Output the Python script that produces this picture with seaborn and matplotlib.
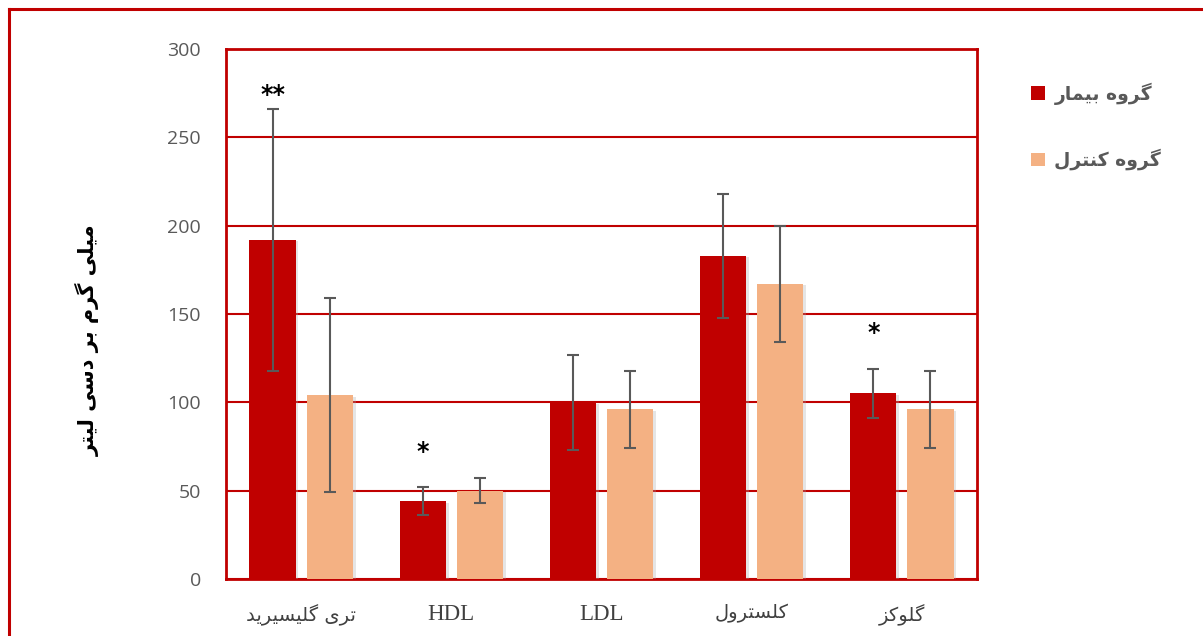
import pandas as pd
import seaborn as sns
import matplotlib.pyplot as plt
from matplotlib.lines import Line2D
from matplotlib.patches import Patch
import matplotlib.patheffects as pe


# Persian letters -> (isolated, final, initial, medial) presentation forms
FORMS = {
    'ا': ('\uFE8D', '\uFE8E'),
    'ب': ('\uFE8F', '\uFE90', '\uFE91', '\uFE92'),
    'ت': ('\uFE95', '\uFE96', '\uFE97', '\uFE98'),
    'د': ('\uFEA9', '\uFEAA'),
    'ر': ('\uFEAD', '\uFEAE'),
    'ز': ('\uFEAF', '\uFEB0'),
    'س': ('\uFEB1', '\uFEB2', '\uFEB3', '\uFEB4'),
    'ل': ('\uFEDD', '\uFEDE', '\uFEDF', '\uFEE0'),
    'م': ('\uFEE1', '\uFEE2', '\uFEE3', '\uFEE4'),
    'ن': ('\uFEE5', '\uFEE6', '\uFEE7', '\uFEE8'),
    'ه': ('\uFEE9', '\uFEEA', '\uFEEB', '\uFEEC'),
    'و': ('\uFEED', '\uFEEE'),
    'ی': ('\uFBFC', '\uFBFD', '\uFBFE', '\uFBFF'),
    'ک': ('\uFB8E', '\uFB8F', '\uFB90', '\uFB91'),
    'گ': ('\uFB92', '\uFB93', '\uFB94', '\uFB95'),
}


def fa(s):
    # shape the letters and put them in visual (right to left) order
    if s.isascii():
        return s
    out = []
    for i, ch in enumerate(s):
        if ch not in FORMS:
            out.append(ch)
            continue
        prev = s[i - 1] if i > 0 else ''
        nxt = s[i + 1] if i + 1 < len(s) else ''
        join_prev = prev in FORMS and len(FORMS[prev]) == 4
        join_next = nxt in FORMS and len(FORMS[ch]) == 4
        f = FORMS[ch]
        if join_prev and join_next:
            out.append(f[3])
        elif join_prev:
            out.append(f[1])
        elif join_next:
            out.append(f[2])
        else:
            out.append(f[0])
    return ''.join(reversed(out))


categories = ['تری گلیسیرید', 'HDL', 'LDL', 'کلسترول', 'گلوکز']
groups = ['گروه بیمار', 'گروه کنترل']
patient_mean = [192, 44, 100, 183, 105]
patient_sd = [74, 8, 27, 35, 14]
control_mean = [104, 50, 96, 167, 96]
control_sd = [55, 7, 22, 33, 22]
stars = ['**', '*', '', '', '*']
star_y = [274, 72, 0, 0, 139]

colors = ['#C00000', '#F4B183']
red = '#C00000'
gray = '#595959'

labels = [fa(c) for c in categories]
df = pd.DataFrame({
    'cat': labels * 2,
    'group': [groups[0]] * 5 + [groups[1]] * 5,
    'value': patient_mean + control_mean,
})

fig = plt.figure(figsize=(12.03, 6.36), dpi=100)
ax = fig.add_axes([0.1879, 0.0896, 0.6242, 0.8334])

sns.barplot(data=df, x='cat', y='value', hue='group', palette=colors,
            width=0.76, gap=0.19, errorbar=None, legend=False, ax=ax,
            saturation=1, zorder=3)

sds = [patient_sd, control_sd]
means = [patient_mean, control_mean]
bar_groups = list(ax.containers[:2])
for k, cont in enumerate(bar_groups):
    xs = [b.get_x() + b.get_width() / 2 for b in cont]
    for b in cont:
        b.set_path_effects([pe.SimplePatchShadow(offset=(2, -1), shadow_rgbFace='#aaaaaa', alpha=0.3), pe.Normal()])
    ax.errorbar(xs, means[k], yerr=sds[k], fmt='none', ecolor=gray,
                elinewidth=1.5, capsize=4.5, capthick=1.5, zorder=4)
    if k == 0:
        for x, s, sy in zip(xs, stars, star_y):
            if s:
                ax.text(x, sy, s, ha='center', va='center', fontsize=17,
                        fontweight='bold', color='black', zorder=5)

ax.set_xlim(-0.5, len(categories) - 0.5)
ax.set_ylim(0, 300)
ax.set_yticks(range(0, 301, 50))
ax.yaxis.grid(True, color=red, linewidth=1.5, zorder=0)
ax.set_axisbelow(True)
for sp in ax.spines.values():
    sp.set_color(red)
    sp.set_linewidth(2)
ax.tick_params(axis='both', length=0)
ax.tick_params(axis='y', labelsize=14, labelcolor=gray, pad=18)
ax.tick_params(axis='x', pad=18)
for t, c in zip(ax.get_xticklabels(), categories):
    if c.isascii():
        t.set_fontfamily('Liberation Serif')
        t.set_fontsize(16.5)
        t.set_color('#404040')
    else:
        t.set_fontfamily('DejaVu Sans')
        t.set_fontsize(14)
        t.set_color('#404040')
for t in ax.get_yticklabels():
    t.set_fontfamily('Open Sans')

ax.set_xlabel('')
ax.set_ylabel(fa('میلی گرم بر دسی لیتر'), fontsize=15, fontweight='bold',
              color='black')
ax.yaxis.set_label_coords(-0.168, 0.45)

handles = [Patch(facecolor=c) for c in colors]
leg = fig.legend(handles, [fa(g) for g in groups], loc='upper left',
                 bbox_to_anchor=(0.843, 0.897), frameon=False,
                 prop={'size': 13.5, 'weight': 'bold'}, labelspacing=2.35,
                 handlelength=0.75, handleheight=0.75, handletextpad=0.5)
for t in leg.get_texts():
    t.set_color(gray)

# outer frame of the figure (top and left edges)
fig.add_artist(Line2D([0.0075, 1.0], [0.986, 0.986], color=red, linewidth=2.2))
fig.add_artist(Line2D([0.0075, 0.0075], [0.0, 0.986], color=red, linewidth=2.2))

fig.savefig('out.png', dpi=100)
